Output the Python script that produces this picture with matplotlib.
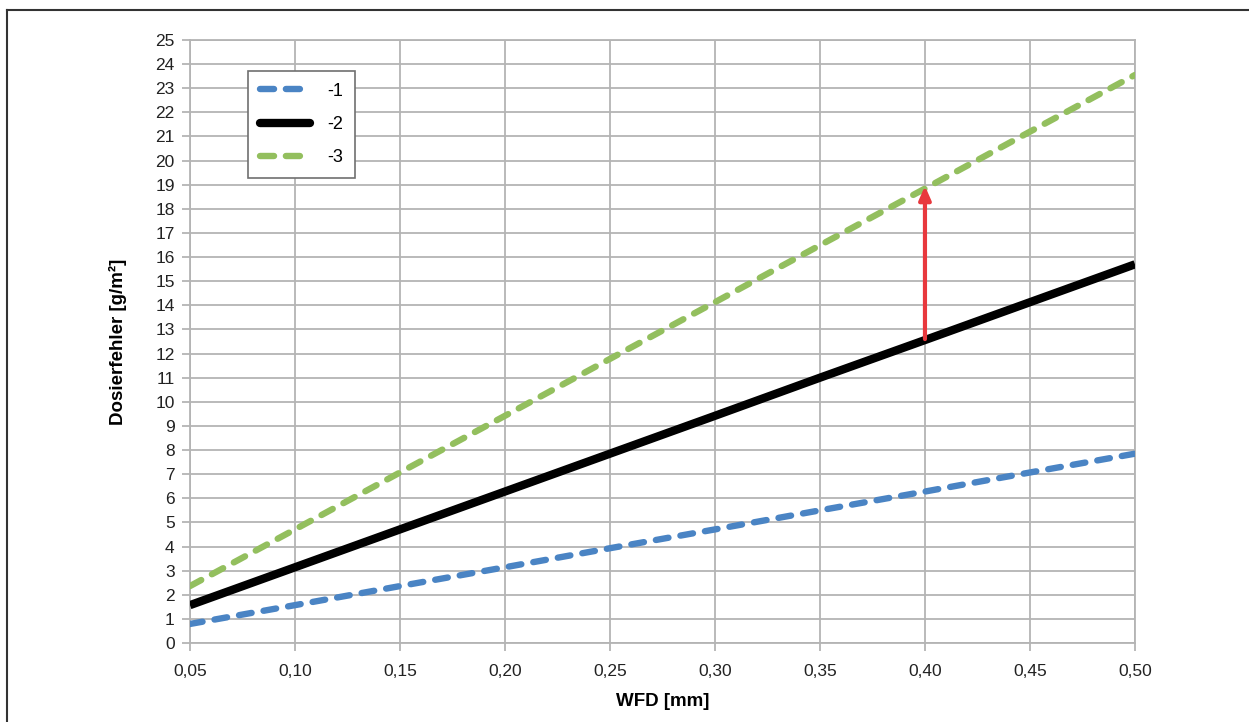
import matplotlib.pyplot as plt
from matplotlib.lines import Line2D

plt.rcParams['font.family'] = ['Liberation Sans', 'DejaVu Sans']

# WFD [mm] and error values
wfd = [0.05, 0.10, 0.15, 0.20, 0.25, 0.30, 0.35, 0.40, 0.45, 0.50]
err_1 = [0.79, 1.57, 2.36, 3.14, 3.93, 4.71, 5.50, 6.28, 7.07, 7.85]
err_2 = [1.57, 3.14, 4.71, 6.28, 7.85, 9.42, 11.0, 12.56, 14.13, 15.7]
err_3 = [2.36, 4.71, 7.07, 9.42, 11.78, 14.13, 16.49, 18.84, 21.2, 23.55]
labels = ['-1', '-2', '-3']
x_ticks = [0.05, 0.10, 0.15, 0.20, 0.25, 0.30, 0.35, 0.40, 0.45, 0.50]
x_tick_labels = ['0,05', '0,10', '0,15', '0,20', '0,25', '0,30', '0,35', '0,40', '0,45', '0,50']
y_ticks = list(range(0, 26))
arrow_x = 0.40
arrow_from = 12.6
arrow_to = 18.95

blue = '#4a84c4'
green = '#93bf5e'
grid_col = '#b4b4b4'

fig = plt.figure(figsize=(12.49, 7.22), dpi=100)
ax = fig.add_axes([0.1521, 0.1094, 0.7566, 0.8352])

ax.plot(wfd, err_1, color=blue, lw=4.6, dashes=(2.0, 1.9),
        dash_capstyle='round', label=labels[0], zorder=3)
ax.plot(wfd, err_2, color='black', lw=6.0, solid_capstyle='butt',
        label=labels[1], zorder=3)
ax.plot(wfd, err_3, color=green, lw=4.6, dashes=(2.0, 1.9),
        dash_capstyle='round', label=labels[2], zorder=3)

ax.annotate('', xy=(arrow_x, arrow_to), xytext=(arrow_x, arrow_from),
            arrowprops=dict(arrowstyle='-|>,head_length=0.8,head_width=0.35',
                            color='#e8383d', lw=3.0, shrinkA=0, shrinkB=0),
            zorder=4)

ax.set_xlim(0.05, 0.50)
ax.set_ylim(0, 25)
ax.set_xticks(x_ticks)
ax.set_xticklabels(x_tick_labels)
ax.set_yticks(y_ticks)
ax.grid(True, color=grid_col, lw=1.3)
ax.set_axisbelow(True)
for s in ax.spines.values():
    s.set_color(grid_col)
    s.set_linewidth(1.3)
ax.tick_params(axis='both', colors=grid_col, labelcolor='#222222',
               labelsize=12.5, length=6, width=1.3)
ax.tick_params(axis='x', pad=9)
ax.tick_params(axis='y', pad=5)

ax.set_xlabel('WFD [mm]', fontsize=13.5, fontweight='bold', labelpad=10)
ax.set_ylabel('Dosierfehler [g/m²]', fontsize=13.5, fontweight='bold', labelpad=20)

leg = ax.legend(loc='upper left', bbox_to_anchor=(0.0614, 0.9486),
                fontsize=13, handlelength=2.8, handletextpad=0.95,
                labelspacing=0.9, borderpad=0.65, borderaxespad=0,
                fancybox=False, framealpha=1, edgecolor='#707070')
leg.get_frame().set_linewidth(1.2)
handles = leg.get_lines()
handles[1].set_solid_capstyle('round')
# two dashes per legend sample, like the original
handles[0].set_dashes((2.2, 1.85))
handles[2].set_dashes((2.2, 1.85))

# outer frame (left and top edges)
fig.add_artist(Line2D([7 / 1249, 7 / 1249], [0, 1 - 10 / 722],
                      transform=fig.transFigure, color='#333333', lw=1.5))
fig.add_artist(Line2D([7 / 1249, 1], [1 - 10 / 722, 1 - 10 / 722],
                      transform=fig.transFigure, color='#333333', lw=1.5))

fig.savefig('out.png', dpi=100)
